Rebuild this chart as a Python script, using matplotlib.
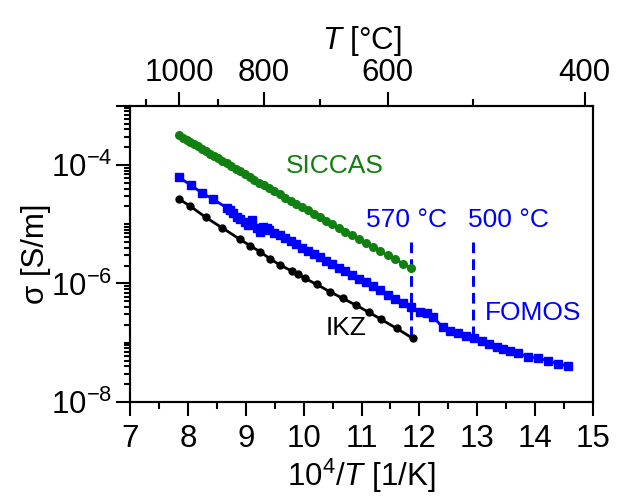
import numpy as np
import matplotlib
matplotlib.use("Agg")
import matplotlib.pyplot as plt
from matplotlib.ticker import FixedLocator, NullFormatter

plt.rcParams['font.family'] = ['Liberation Sans', 'DejaVu Sans']
plt.rcParams['mathtext.fontset'] = 'custom'
plt.rcParams['mathtext.rm'] = 'Liberation Sans'
plt.rcParams['mathtext.it'] = 'Liberation Sans:italic'

# ---------------- data ----------------
# SICCAS: measured every 10 degC from 1000 to 570 degC
siccas_T = [1000, 990, 980, 970, 960, 950, 940, 930, 920, 910, 900, 890, 880, 870,
            860, 850, 840, 830, 820, 810, 800, 790, 780, 770, 760, 750, 740, 730,
            720, 710, 700, 690, 680, 670, 660, 650, 640, 630, 620, 610, 600, 590,
            580, 570]
siccas_sigma = [3.16e-4, 2.90e-4, 2.67e-4, 2.45e-4, 2.24e-4, 2.05e-4, 1.87e-4, 1.71e-4,
                1.56e-4, 1.42e-4, 1.29e-4, 1.17e-4, 1.06e-4, 9.55e-5, 8.61e-5, 7.77e-5,
                7.00e-5, 6.28e-5, 5.63e-5, 5.05e-5, 4.51e-5, 4.02e-5, 3.58e-5, 3.18e-5,
                2.82e-5, 2.49e-5, 2.20e-5, 1.94e-5, 1.71e-5, 1.50e-5, 1.31e-5, 1.15e-5,
                9.98e-6, 8.67e-6, 7.51e-6, 6.49e-6, 5.60e-6, 4.81e-6, 4.12e-6, 3.52e-6,
                3.01e-6, 2.55e-6, 2.16e-6, 1.82e-6]

# IKZ
ikz_x = [7.846, 8.036, 8.307, 8.589, 8.900, 9.073, 9.245, 9.418, 9.591, 9.793, 9.896,
         10.022, 10.224, 10.454, 10.674, 10.898, 11.128, 11.335, 11.606, 11.883]
ikz_sigma = [2.67e-5, 2.03e-5, 1.31e-5, 8.73e-6, 5.56e-6, 4.35e-6, 3.44e-6, 2.62e-6,
             2.05e-6, 1.63e-6, 1.43e-6, 1.22e-6, 9.68e-7, 7.26e-7, 5.62e-7, 4.34e-7,
             3.27e-7, 2.49e-7, 1.75e-7, 1.19e-7]

# FOMOS
fomos_x = [7.846, 8.048, 8.238, 8.439, 8.670, 8.727, 8.784, 8.843, 8.900, 8.986, 9.043,
           9.102, 9.188, 9.245, 9.302, 9.361, 9.406, 9.495, 9.586, 9.679, 9.774, 9.870,
           9.969, 10.069, 10.171, 10.276, 10.383, 10.492, 10.603, 10.716, 10.833, 10.951,
           11.072, 11.196, 11.323, 11.453, 11.586, 11.721, 11.860, 12.009, 12.124, 12.238,
           12.401, 12.527, 12.670, 12.798, 12.941, 13.074, 13.206, 13.344, 13.453, 13.563,
           13.706, 13.879, 14.052, 14.225, 14.397, 14.570]
fomos_sigma = [6.19e-5, 4.59e-5, 3.40e-5, 2.63e-5, 1.90e-5, 1.74e-5, 1.53e-5, 1.34e-5,
               1.21e-5, 1.10e-5, 9.70e-6, 1.18e-5, 8.63e-6, 7.48e-6, 9.08e-6, 8.53e-6,
               8.07e-6, 7.23e-6, 6.47e-6, 5.77e-6, 5.13e-6, 4.56e-6, 4.04e-6, 3.57e-6,
               3.15e-6, 2.77e-6, 2.43e-6, 2.12e-6, 1.85e-6, 1.61e-6, 1.39e-6, 1.20e-6,
               1.04e-6, 8.91e-7, 7.62e-7, 6.50e-7, 5.52e-7, 4.68e-7, 4.00e-7, 3.34e-7,
               3.14e-7, 2.75e-7, 1.82e-7, 1.60e-7, 1.48e-7, 1.32e-7, 1.19e-7, 1.08e-7,
               9.53e-8, 8.57e-8, 7.90e-8, 7.34e-8, 6.64e-8, 5.81e-8, 5.46e-8, 4.98e-8,
               4.38e-8, 4.05e-8]

# dashed marker lines (degC) and their vertical extent
mark_T = [570, 500]
mark_sigma_range = [5.0e-6, 1.3e-7]

# top axis ticks (degC)
top_major = [1000, 800, 600, 400]
top_minor = [1100, 900, 700, 500]

GREEN = '#108010'
BLUE = '#0000ff'

fig = plt.figure(figsize=(6.25, 4.98), dpi=100)
ax = fig.add_axes([130/625, 1 - 402/498, (593 - 130)/625, (402 - 105.7)/498])

siccas_x = [1e4 / (t + 273.15) for t in siccas_T]
ax.plot(siccas_x, siccas_sigma, '-o', color=GREEN, lw=2, ms=5.5, mec=GREEN, mfc=GREEN, zorder=3)
ax.plot(fomos_x, fomos_sigma, '-s', color=BLUE, lw=2, ms=5.5, mec=BLUE, mfc=BLUE, zorder=3)
ax.plot(ikz_x, ikz_sigma, '-o', color='black', lw=2, ms=5, zorder=3)

for t in mark_T:
    xv = 1e4 / (t + 273.15)
    ax.plot([xv, xv], mark_sigma_range, ls=(0, (3.5, 2)), color=BLUE, lw=2.2, zorder=2)

ax.set_yscale('log')
ax.set_xlim(7, 15)
ax.set_ylim(1e-8, 1e-3)

ax.xaxis.set_major_locator(FixedLocator(np.arange(7, 16, 1)))
ax.xaxis.set_minor_locator(FixedLocator(np.arange(7.5, 15, 1)))
ax.yaxis.set_major_locator(FixedLocator([1e-8, 1e-6, 1e-4, 1e-3]))
ax.set_yticklabels(['$10^{-8}$', '$10^{-6}$', '$10^{-4}$', ''])
minors = []
for d in range(-8, -3):
    for m in range(1, 10):
        v = m * 10.0**d
        if m == 1 and d in (-8, -6, -4):
            continue
        minors.append(v)
ax.yaxis.set_minor_locator(FixedLocator(minors))
ax.yaxis.set_minor_formatter(NullFormatter())

ax.tick_params(axis='both', which='major', direction='out', length=10, width=1.5, labelsize=22.5, pad=3)
ax.tick_params(axis='x', which='minor', direction='out', length=5, width=1.5)
ax.tick_params(axis='y', which='minor', direction='out', length=4.5, width=1.5)
ax.tick_params(axis='x', which='major', pad=6)
for s in ax.spines.values():
    s.set_linewidth(1.5)

ax.set_xlabel(r'10$^4$/$T$ [1/K]', fontsize=22.5, labelpad=2)
ax.set_ylabel('σ [S/m]', fontsize=22.5)
ax.yaxis.set_label_coords(-0.17, 0.5)

# top temperature axis
ax2 = ax.twiny()
ax2.set_xlim(ax.get_xlim())
ax2.set_xticks([1e4 / (t + 273.15) for t in top_major])
ax2.set_xticklabels([str(t) for t in top_major])
ax2.set_xticks([1e4 / (t + 273.15) for t in top_minor], minor=True)
ax2.tick_params(axis='x', which='major', direction='out', length=10, width=1.5, labelsize=22.5, pad=3)
ax2.tick_params(axis='x', which='minor', direction='out', length=5, width=1.5)
ax2.set_xlabel(r'$T$ [°C]', fontsize=22.5, labelpad=6)
for s in ax2.spines.values():
    s.set_linewidth(1.5)

# annotations
ax.text(9.694, 10**-4.141, 'SICCAS', color=GREEN, fontsize=19, ha='left', va='baseline')
ax.text(11.071, 10**-5.042, '570 °C', color=BLUE, fontsize=19, ha='left', va='baseline')
ax.text(12.843, 10**-5.042, '500 °C', color=BLUE, fontsize=19, ha='left', va='baseline')
ax.text(13.131, 10**-6.616, 'FOMOS', color=BLUE, fontsize=19, ha='left', va='baseline')
ax.text(10.385, 10**-6.869, 'IKZ', color='black', fontsize=19, ha='left', va='baseline')

fig.savefig('out.png', dpi=100)
